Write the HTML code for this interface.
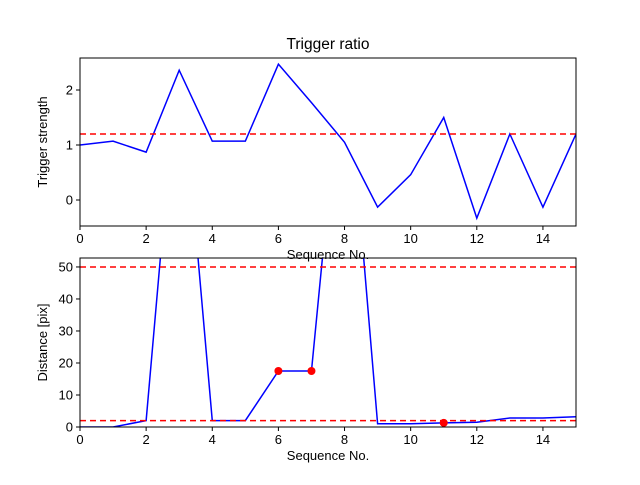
<!DOCTYPE html>
<html><head><meta charset="utf-8"><style>
body{margin:0;background:#fff;font-family:"Liberation Sans","DejaVu Sans",sans-serif;}
svg text{font-family:"Liberation Sans","DejaVu Sans",sans-serif;font-size:13px;fill:#000;}
</style></head><body>
<svg id="c" width="640" height="480"></svg>
<script>
const xs=[0,1,2,3,4,5,6,7,8,9,10,11,12,13,14,15];
const ratio=[1.0,1.07,0.87,2.36,1.07,1.07,2.47,1.77,1.05,-0.13,0.46,1.5,-0.33,1.2,-0.13,1.2];
const ratioThreshold=1.2;
const dist=[0,0,2,120,2,2,17.5,17.5,124,1,1,1.3,1.5,2.8,2.8,3.2];
const distThresholds=[50,2];
const markedIdx=[6,7,11];
const xTicks=[0,2,4,6,8,10,12,14];
const yTicksTop=[0,1,2];
const yTicksBot=[0,10,20,30,40,50];
const NS="http://www.w3.org/2000/svg";
const svg=document.getElementById('c');
function mk(t,a,p){const e=document.createElementNS(NS,t);for(const k in a)e.setAttribute(k,a[k]);(p||svg).appendChild(e);return e;}
function panel(top,bot,ymin,ymax,yt,data,thr,ylabel,name,title,marks){
 const L=80,R=576;
 const sx=v=>L+(v-0)/(15-0)*(R-L);
 const sy=v=>bot-(v-ymin)/(ymax-ymin)*(bot-top);
 const g=mk('g',{});
 
 
 const cp=mk('clipPath',{id:'cp'+name},g);mk('rect',{x:L,y:top,width:R-L,height:bot-top},cp);
 const pts=xs.map((x,i)=>sx(x)+','+sy(data[i])).join(' ');
 const ln=mk('polyline',{points:pts,fill:'none',stroke:'#0000ff','stroke-width':1.5,'clip-path':'url(#cp'+name+')'},g);
 
 
 thr.forEach(t=>{const l=mk('line',{x1:L,x2:R,y1:sy(t),y2:sy(t),stroke:'#ff0000','stroke-width':1.5,'stroke-dasharray':'6,4'},g);
  
  });
 marks.forEach(i=>{const c=mk('circle',{cx:sx(xs[i]),cy:sy(data[i]),r:4,fill:'#ff0000'},g);
  
  });
 mk('rect',{x:L,y:top,width:R-L,height:bot-top,fill:'none',stroke:'#000','stroke-width':1},g);
 xTicks.forEach(t=>{mk('line',{x1:sx(t),x2:sx(t),y1:bot,y2:bot+4,stroke:'#000'},g);
  const tx=mk('text',{x:sx(t),y:bot+17,'text-anchor':'middle'},g);tx.textContent=t;
  
  });
 yt.forEach(t=>{mk('line',{x1:L-4,x2:L,y1:sy(t),y2:sy(t),stroke:'#000'},g);
  const tx=mk('text',{x:L-7,y:sy(t)+4.5,'text-anchor':'end'},g);tx.textContent=t;
  
  });
 const xl=mk('text',{x:(L+R)/2,y:bot+33,'text-anchor':'middle'},g);xl.textContent='Sequence No.';
 
 
 const yl=mk('text',{x:0,y:0,'text-anchor':'middle',transform:`translate(${L-33},${(top+bot)/2}) rotate(-90)`},g);yl.textContent=ylabel;
 
 
 if(title){const tt=mk('text',{x:(L+R)/2,y:top-9,'text-anchor':'middle',style:'font-size:15.5px'},g);tt.textContent=title;
  
  }
}
panel(258,427,0,52.8,yTicksBot,dist,distThresholds,'Distance [pix]','distance-panel','',markedIdx);
const bg=mk('rect',{x:80,y:240,width:496,height:17,fill:'#fff'});
panel(58,226,-0.473,2.582,yTicksTop,ratio,[ratioThreshold],'Trigger strength','trigger-panel','Trigger ratio',[]);
</script>
</body></html>
